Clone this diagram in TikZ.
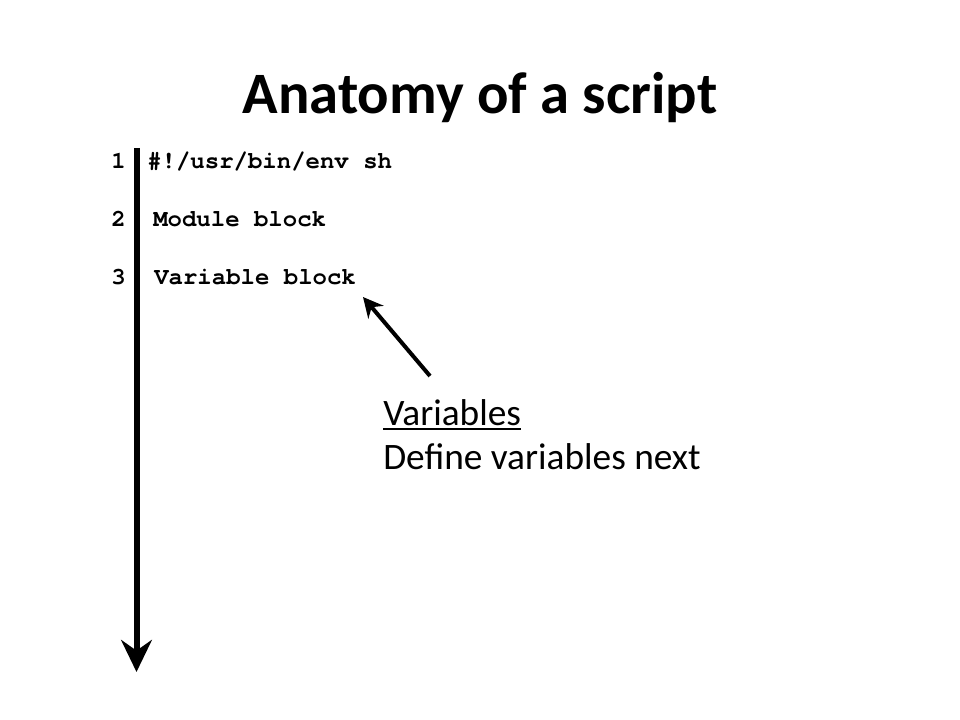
\documentclass[tikz,border=0pt]{standalone}
\usepackage{fontspec}
\setmainfont{Carlito}
\setmonofont{texgyrecursor}[Extension=.otf, UprightFont=*-regular, BoldFont=*-bold]
\usetikzlibrary{arrows.meta}
\newcommand\thickul[1]{\setbox0\hbox{#1}\rlap{\rule[-4pt]{\wd0}{1.8pt}}\box0}
\tikzset{
  codeline/.style={anchor=base west, inner sep=0, font=\ttfamily\bfseries\fontsize{18}{18}\selectfont},
  flow/.style={line width=4.5pt, -{Stealth[length=24pt, width=23pt, inset=8pt]}},
  pointer/.style={line width=3pt, -{Stealth[length=15pt, width=15pt, inset=5pt]}}
}

\begin{document}
\begin{tikzpicture}[x=0.75pt, y=-0.75pt]

    \useasboundingbox (0,0) rectangle (960,720);

    \node[anchor=base, inner sep=0, font=\bfseries\fontsize{44}{44}\selectfont] (title) at (480,114) {Anatomy of a script};

    \node[codeline] (n1) at (111,169) {1};
    \node[codeline] (n2) at (111,227) {2};
    \node[codeline] (n3) at (111,285) {3};

    \node[codeline] (l1) at (147,169) {\#!/usr/bin/env sh};
    \node[codeline] (l2) at (153,227) {Module block};
    \node[codeline] (l3) at (154,285) {Variable block};

    \coordinate (top) at (136.5,148);
    \coordinate (end) at (136.5,672);
    \draw[flow] (top) -- (end);

    \node[anchor=base west, inner sep=0, align=left, font=\fontsize{28}{33}\selectfont] (note) at (383,469) {\thickul{Variables}\\Define variables next};

    \coordinate (from) at (430,376);
    \coordinate (to) at (363,297);
    \draw[pointer] (from) -- (to);

\end{tikzpicture}
\end{document}
